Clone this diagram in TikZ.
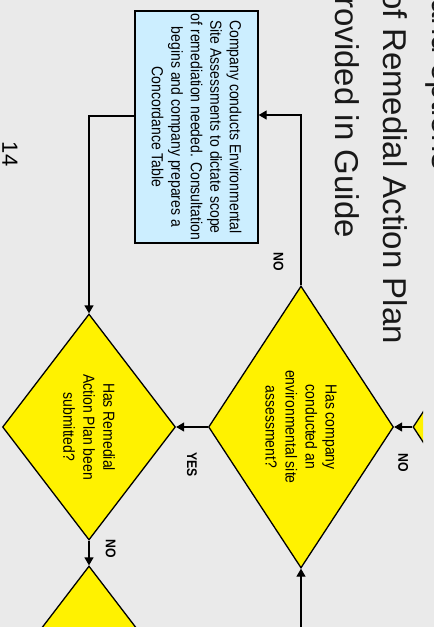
\documentclass[tikz,border=0pt]{standalone}
\usepackage{fontspec}
\setmainfont{Liberation Sans}
\newfontfamily\narrowsf[FakeStretch=0.875]{Liberation Sans}
\usetikzlibrary{shapes.geometric,arrows.meta,positioning,calc}
\definecolor{slidegray}{HTML}{EAEAEA}
\definecolor{askyellow}{HTML}{FFF200}
\definecolor{taskblue}{HTML}{CCEEFF}
\tikzset{
  decision/.style={diamond, draw, line width=1.3pt, fill=askyellow, inner sep=0pt, align=center,
    font=\narrowsf\fontsize{16}{20}\selectfont},
  task/.style={rectangle, draw, line width=1.3pt, fill=taskblue, inner sep=0pt, align=center,
    font=\narrowsf\fontsize{16}{19.5}\selectfont},
  flow/.style={line width=1.3pt, -{Triangle[length=8pt,width=9pt]}},
  answer/.style={font=\narrowsf\bfseries\fontsize{14}{14}\selectfont, inner sep=0pt},
  heading/.style={font=\fontsize{33}{33}\selectfont, inner sep=0pt, anchor=base east, text=black!90}
}
\begin{document}
\begin{tikzpicture}[x=1pt,y=1pt]
\begin{scope}[rotate=-90,transform shape]
  \useasboundingbox (0,0) rectangle (627,434);
  \fill[slidegray] (0,0) rectangle (627,434);
  \clip (0,0) rectangle (627,434);

  \node[heading] (ttl0) at (170,432) {s and options};
  \node[heading] (ttl1) at (344,383) {of Remedial Action Plan};
  \node[heading] (ttl2) at (238,335) {provided in Guide};

  \begin{scope}
    \clip (0,0) rectangle (627,423);
    \node[decision, minimum width=282, minimum height=185] (d4) at (427,505.5) {};
  \end{scope}

  \node[task, minimum width=232, minimum height=123] (box) at (127,196.5)
    {Company conducts Environmental\\Site Assessments to dictate scope\\of remediation needed. Consultation\\begins and company prepares a\\Concordance Table};
  \node[decision, minimum width=282, minimum height=185] (d1) at (427,301)
    {Has company\\conducted an\\environmental site\\assessment?};
  \node[decision, minimum width=226, minimum height=173] (d2) at (427,89)
    {Has Remedial\\Action Plan been\\submitted?};
  \node[decision, minimum width=226, minimum height=173] (d3) at (679,89) {};
  \coordinate (inflow) at (640,301);

  \draw[flow] (d4.south) -- (d1.north) node[answer, midway, right=26pt] {NO};
  \draw[flow] (d1.west) -| ($(box.north)+(-12,0)$) node[answer, pos=0.07, below=17pt] {NO};
  \draw[flow] ($(box.south)+(-11,0)$) |- (d2.west);
  \draw[flow] (d1.south) -- (d2.north) node[answer, midway, right=25pt] {YES};
  \draw[flow] (d2.east) -- (d3.west) node[answer, midway, above=16pt, xshift=-4pt] {NO};
  \draw[flow] (inflow) -- (d1.east);

  \node[font=\fontsize{22}{22}\selectfont, inner sep=0pt] (pgno) at (154,10) {14};
\end{scope}
\end{tikzpicture}
\end{document}
